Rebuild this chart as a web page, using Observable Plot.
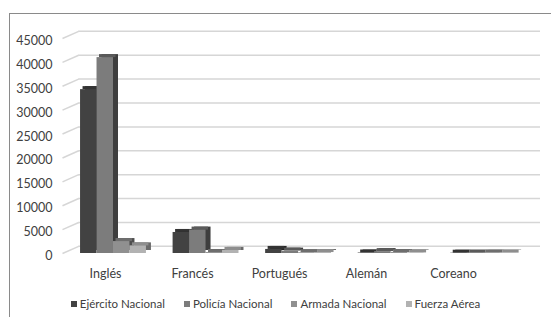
<!DOCTYPE html>
<html><head><meta charset="utf-8">
<script src="https://cdn.jsdelivr.net/npm/d3@7"></script>
<script src="https://cdn.jsdelivr.net/npm/@observablehq/plot@0.6"></script>
<style>
body{margin:0;background:#fff;}
#wrap{position:relative;width:551px;height:317px;overflow:hidden;font-family:Lato,"Open Sans",sans-serif;}
#frame{position:absolute;left:9px;top:13px;right:-3px;bottom:-3px;border-top:1px solid #8a8a8a;border-left:1px solid #8a8a8a;}
#chart{position:absolute;left:0;top:0;}
#legend{position:absolute;top:297px;left:0;width:551px;display:flex;justify-content:center;gap:19px;font-size:11.5px;color:#404040;line-height:14px;}
#legend span.it{display:flex;align-items:center;}
.sw{display:inline-block;width:6px;height:6px;margin-right:3px;}
</style></head><body>
<div id="wrap"><div id="frame"></div><div id="chart"></div><div id="legend"></div></div>
<script>
const languages = ["Inglés", "Francés", "Portugués", "Alemán", "Coreano"];
const seriesNames = ["Ejército Nacional", "Policía Nacional", "Armada Nacional", "Fuerza Aérea"];
const ejercito = [34300, 4400, 850, 100, 60];
const policia  = [41000, 4900, 500, 400, 60];
const armada   = [2500, 200, 150, 200, 80];
const fuerza   = [1600, 650, 200, 120, 80];
const yTicks = [0, 5000, 10000, 15000, 20000, 25000, 30000, 35000, 40000, 45000];

const frontColors = ["#424242", "#7c7c7c", "#909090", "#b2b2b2"];
const topColors   = ["#333333", "#5a5a5a", "#6e6e6e", "#8e8e8e"];
const sideColors  = ["#262626", "#3e3e3e", "#4e4e4e", "#6a6a6a"];

const allSeries = [ejercito, policia, armada, fuerza];
const rows = [];
languages.forEach((lang, i) => {
  allSeries.forEach((vals, s) => {
    rows.push({lang, i, s, series: seriesNames[s], value: vals[i]});
  });
});

const W = 0.178;      // bar width in group units
const DEPTH = 1500;   // back-wall offset in value units
const bx1 = d => d.i + d.s * W;
const bx2 = d => d.i + (d.s + 1) * W;

const plot = Plot.plot({
  width: 551,
  height: 290,
  marginLeft: 62,
  marginRight: 11,
  marginTop: 20,
  marginBottom: 30,
  style: {fontFamily: "Lato, 'Open Sans', sans-serif", fontSize: "12px", color: "#404040", background: "transparent"},
  x: {domain: [-0.195, 4.97], axis: null},
  y: {domain: [0, 45000], range: [253, 38], axis: null},
  marks: [
    Plot.link(yTicks, {x1: -0.195, x2: -0.02, y1: d => d, y2: d => d + DEPTH, stroke: "#d6d6d6", strokeWidth: 1.5}),
    Plot.ruleY(yTicks, {y: d => d + DEPTH, x1: -0.02, x2: 4.97, stroke: "#d6d6d6", strokeWidth: 1.5}),
    Plot.text(yTicks, {y: d => d, text: d => String(d), frameAnchor: "left", textAnchor: "end", dx: -10, dy: 2.5, fill: "#404040", fontSize: 12.5}),
    Plot.rect(rows, {x1: bx1, x2: bx2, y1: 0, y2: d => d.value, dx: 5, dy: -3, fill: d => sideColors[d.s]}),
    Plot.rect(rows, {x1: bx1, x2: bx2, y1: d => d.value, y2: d => d.value, insetTop: -1.5, insetBottom: -1.5, dx: 2.5, dy: -1.5, fill: d => topColors[d.s]}),
    Plot.rect(rows, {x1: bx1, x2: bx2, y1: 0, y2: d => d.value, fill: d => frontColors[d.s]}),
    Plot.text(languages, {x: (d, i) => i * 0.94 + 0.27, y: 0, dy: 20, text: d => d, fill: "#404040", fontSize: 12.5})
  ]
});
document.getElementById("chart").appendChild(plot);

const legend = document.getElementById("legend");
seriesNames.forEach((name, s) => {
  const it = document.createElement("span");
  it.className = "it";
  const sw = document.createElement("span");
  sw.className = "sw";
  sw.style.background = frontColors[s];
  it.appendChild(sw);
  it.appendChild(document.createTextNode(name));
  legend.appendChild(it);
});
</script>
</body></html>
